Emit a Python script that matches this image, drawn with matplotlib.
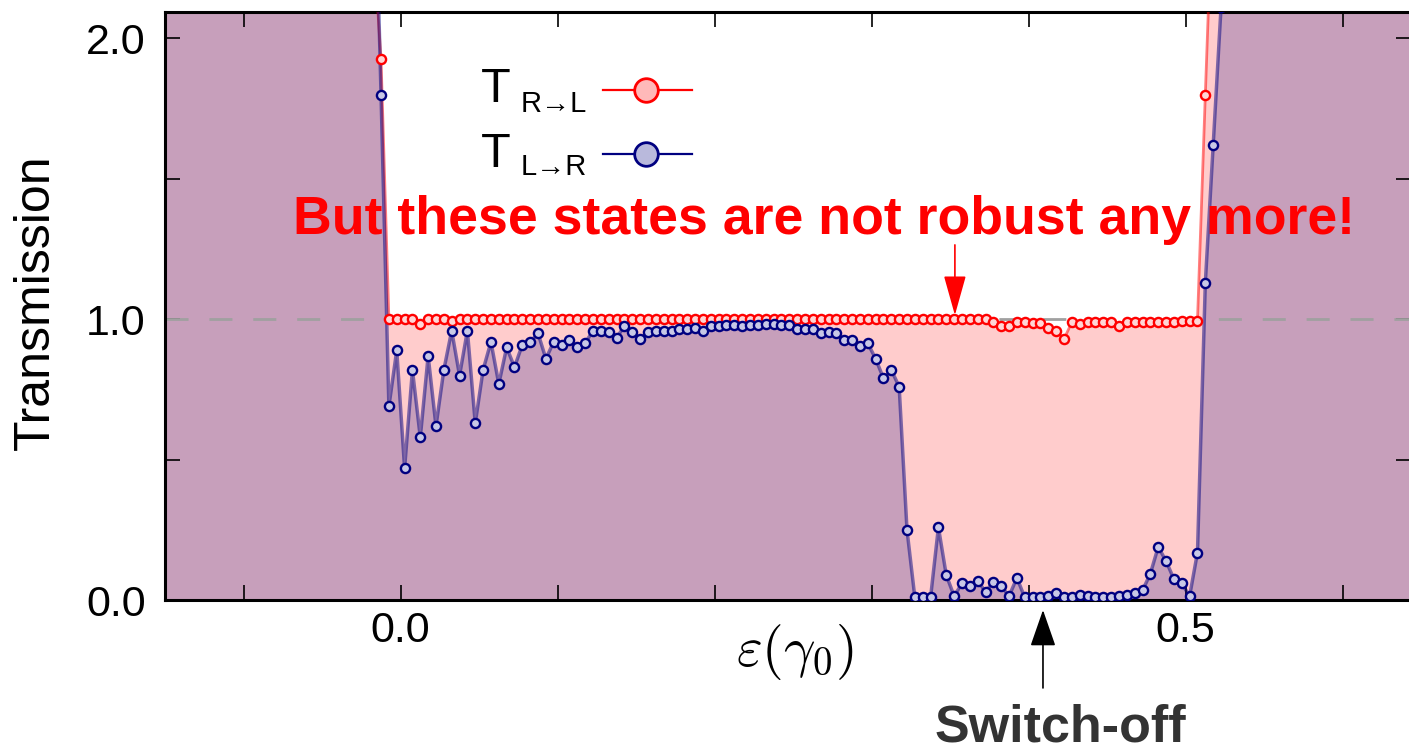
import numpy as np
import matplotlib
matplotlib.use("Agg")
import matplotlib.pyplot as plt
from matplotlib.lines import Line2D
from matplotlib.ticker import FixedLocator, FixedFormatter

plt.rcParams['font.family'] = ['Liberation Sans', 'DejaVu Sans']
plt.rcParams['mathtext.fontset'] = 'cm'

# energy grid of the data points (step 0.005, first point just off-scale)
EPS_START = -0.0175
EPS_STEP = 0.005

# T R->L (red)
T_RL = [2.35, 1.925, 1.0, 1.0,
        1.0, 1.0, 0.985, 1.0, 1.0, 1.0, 0.995, 1.0, 1.0, 1.0,
        1.0, 1.0, 1.0, 1.0, 1.0, 1.0, 1.0, 1.0, 1.0, 1.0,
        1.0, 1.0, 1.0, 1.0, 1.0, 1.0, 1.0, 1.0, 1.0, 1.0,
        1.0, 1.0, 1.0, 1.0, 1.0, 1.0, 1.0, 1.0, 1.0, 1.0,
        1.0, 1.0, 1.0, 1.0, 1.0, 1.0, 1.0, 1.0, 1.0, 1.0,
        1.0, 1.0, 1.0, 1.0, 1.0, 1.0, 1.0, 1.0, 1.0, 1.0,
        1.0, 1.0, 1.0, 1.0, 1.0, 1.0, 1.0, 1.0, 1.0, 1.0,
        1.0, 1.0, 1.0, 1.0, 1.0, 0.99, 0.975, 0.978, 0.99, 0.99,
        0.988, 0.988, 0.97, 0.96, 0.93, 0.99, 0.985, 0.99, 0.99, 0.99,
        0.99, 0.978, 0.99, 0.99, 0.99, 0.99, 0.99, 0.99, 0.99, 0.995,
        0.995, 0.995, 1.80, 2.58, 3.2]

# T L->R (blue)
T_LR = [2.85, 1.80, 0.69, 0.89,
        0.47, 0.82, 0.58, 0.87, 0.62, 0.82, 0.96, 0.80, 0.96, 0.63,
        0.82, 0.92, 0.77, 0.90, 0.83, 0.91, 0.92, 0.95, 0.86, 0.92,
        0.91, 0.925, 0.90, 0.915, 0.96, 0.96, 0.955, 0.935, 0.975, 0.955,
        0.93, 0.955, 0.96, 0.96, 0.96, 0.965, 0.965, 0.97, 0.96, 0.975,
        0.975, 0.98, 0.98, 0.975, 0.98, 0.98, 0.985, 0.985, 0.98, 0.98,
        0.965, 0.965, 0.965, 0.95, 0.955, 0.95, 0.925, 0.925, 0.905, 0.915,
        0.86, 0.79, 0.82, 0.76, 0.25, 0.01, 0.01, 0.01, 0.26, 0.09,
        0.015, 0.06, 0.05, 0.07, 0.03, 0.065, 0.05, 0.015, 0.08, 0.01,
        0.01, 0.01, 0.015, 0.025, 0.01, 0.01, 0.02, 0.015, 0.01, 0.01,
        0.01, 0.015, 0.02, 0.025, 0.035, 0.095, 0.19, 0.14, 0.075, 0.06,
        0.015, 0.17, 1.13, 1.62, 2.11]

# both curves are far above the window outside the gap
OFF_SCALE = 4.0
X_LEFT, X_RIGHT = -0.16, 0.66

x_ticks = [-0.1, 0.0, 0.1, 0.2, 0.3, 0.4, 0.5, 0.6]
x_labels = ['', '0.0', '', '', '', '', '0.5', '']
y_ticks = [0.0, 0.5, 1.0, 1.5, 2.0]
y_labels = ['0.0', '', '1.0', '', '2.0']

eps = EPS_START + EPS_STEP * np.arange(len(T_RL))
x_pad = np.concatenate([[X_LEFT], eps, [X_RIGHT]])
rl_pad = np.concatenate([[OFF_SCALE], T_RL, [OFF_SCALE]])
lr_pad = np.concatenate([[OFF_SCALE], T_LR, [OFF_SCALE]])

W, H = 1409, 752


def fx(px):
    return px / W


def fy(py):
    return 1 - py / H


fig = plt.figure(figsize=(W / 100, H / 100), dpi=100)
ax = fig.add_axes([fx(165), fy(600.3), (1411 - 165) / W, (600.3 - 11.7) / H])

ax.fill_between(x_pad, 0, rl_pad, color='red', alpha=0.2, lw=0, zorder=1)
ax.fill_between(x_pad, 0, lr_pad, color='navy', alpha=0.22, lw=0, zorder=1)
ax.axhline(1.0, color='#a0a0a0', lw=2, dashes=(8.3, 7.5), zorder=2)

ax.plot(eps, T_RL, color='red', alpha=0.5, lw=2, zorder=3)
ax.plot(eps, T_RL, ls='none', marker='o', ms=6.6, mew=1.7, mec='red', mfc='#ffd6d6', zorder=4)
ax.plot(eps, T_LR, color='navy', alpha=0.5, lw=2.5, zorder=3)
ax.plot(eps, T_LR, ls='none', marker='o', ms=6.6, mew=1.7, mec='navy', mfc='#c8c8e6', zorder=4)

ax.set_xlim(-0.1501, 0.6435)
ax.set_ylim(0, 2.095)
ax.xaxis.set_major_locator(FixedLocator(x_ticks))
ax.xaxis.set_major_formatter(FixedFormatter(x_labels))
ax.yaxis.set_major_locator(FixedLocator(y_ticks))
ax.yaxis.set_major_formatter(FixedFormatter(y_labels))
ax.tick_params(direction='in', length=11, width=1.2, top=True, right=True,
               labelsize=31, colors='black')
ax.tick_params(axis='y', pad=14)
ax.tick_params(axis='x', pad=8)
for sp in ax.spines.values():
    sp.set_linewidth(2.2)

ax.set_xlabel(r'$\varepsilon(\gamma_0)$', fontsize=40)
ax.xaxis.set_label_coords((795 - 165) / 1246, (600.3 - 652) / 588.6)
ax.xaxis.label.set_va('center')
ax.set_ylabel('Transmission', fontsize=36)
ax.yaxis.set_label_coords((36 - 165) / 1246, (600.3 - 302) / 588.6)
ax.yaxis.label.set_va('center')

# hand-made legend
fig.text(fx(481), fy(102), 'T', fontsize=35, ha='left', va='baseline')
fig.text(fx(521), fy(112), 'R→L', fontsize=21, ha='left', va='baseline')
fig.text(fx(481), fy(167), 'T', fontsize=35, ha='left', va='baseline')
fig.text(fx(521), fy(175), 'L→R', fontsize=21, ha='left', va='baseline')
for row_y, c, face in [(90, 'red', '#ffb9b9'), (154, 'navy', '#b9b9dc')]:
    fig.add_artist(Line2D([fx(603), fx(692)], [fy(row_y), fy(row_y)],
                          transform=fig.transFigure, color=c, lw=1.6))
    fig.add_artist(Line2D([fx(646)], [fy(row_y)], transform=fig.transFigure,
                          marker='o', ms=17, mew=2, mec=c, mfc=face, ls='none'))

# annotations
fig.text(fx(824), fy(234), 'But these states are not robust any more!',
         fontsize=38.6, fontweight='bold', color='red', ha='center', va='baseline')
ax.annotate('', xy=(0.353, 1.015), xytext=(0.353, 1.265),
            arrowprops=dict(arrowstyle='-|>,head_length=25,head_width=7',
                            mutation_scale=1, color='red', lw=1.2,
                            shrinkA=0, shrinkB=0), zorder=6)
ax.annotate('', xy=(0.4091, -0.0345), xytext=(0.4091, -0.312),
            annotation_clip=False,
            arrowprops=dict(arrowstyle='-|>,head_length=23,head_width=8',
                            mutation_scale=1, color='black', lw=1.2,
                            shrinkA=0, shrinkB=0))
fig.text(fx(1060), fy(741), 'Switch-off', fontsize=37.5, fontweight='bold',
         color='#333333', ha='center', va='baseline')

fig.savefig('out.png', dpi=100)
